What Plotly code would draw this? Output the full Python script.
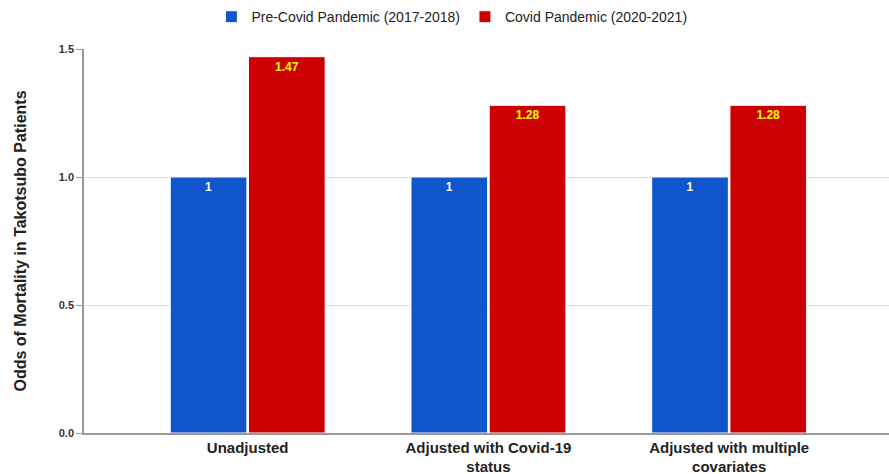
import plotly.graph_objects as go

categories = ["Unadjusted", "Adjusted with Covid-19<br>status", "Adjusted with multiple<br>covariates"]
pre_covid = [1, 1, 1]
covid = [1.47, 1.28, 1.28]
y_ticks = [0.0, 0.5, 1.0, 1.5]
y_tick_text = ["0.0", "0.5", "1.0", "1.5"]

x_pos = list(range(len(categories)))
FONT = "Liberation Sans, Arial, sans-serif"

fig = go.Figure()
fig.add_trace(go.Bar(
    x=x_pos, y=pre_covid, name="Pre-Covid Pandemic (2017-2018)",
    marker=dict(color="#1155cc", line=dict(color="white", width=1)),
    text=[str(v) for v in pre_covid], textposition="inside", insidetextanchor="end",
    textfont=dict(color="white", size=12, family=FONT, weight="bold"),
    textangle=0,
))
fig.add_trace(go.Bar(
    x=x_pos, y=covid, name="Covid Pandemic (2020-2021)",
    marker=dict(color="#cc0000", line=dict(color="white", width=1)),
    text=[str(v) for v in covid], textposition="inside", insidetextanchor="end",
    textfont=dict(color="#ffff00", size=12, family=FONT, weight="bold"),
    textangle=0,
))

fig.update_layout(
    width=889, height=474,
    margin=dict(l=84, r=0, t=49, b=41),
    paper_bgcolor="white", plot_bgcolor="white",
    barmode="group", bargap=0.35, bargroupgap=0.02,
    font=dict(family=FONT, color="#222222"),
    legend=dict(orientation="h", x=0.457, xanchor="center", y=1.083, yanchor="middle",
                font=dict(size=14, color="#222222"), itemwidth=30,
                bgcolor="rgba(0,0,0,0)"),
    xaxis=dict(
        tickmode="array", tickvals=x_pos, ticktext=categories,
        range=[-0.68, 2.664], showgrid=False, automargin=False,
        showline=True, linecolor="#999999", linewidth=1.5,
        ticks="", ticklabelstandoff=0,
        tickfont=dict(size=15, family=FONT, weight="bold", color="#222222"),
    ),
    yaxis=dict(
        range=[0, 1.5], tickmode="array", tickvals=y_ticks, ticktext=y_tick_text,
        showgrid=True, gridcolor="#dddddd", gridwidth=1, automargin=False,
        showline=True, linecolor="#999999", linewidth=1.5,
        ticks="outside", ticklen=6, tickcolor="#999999",
        tickfont=dict(size=11, family=FONT, weight="bold", color="#333333"),
        zeroline=False,
        title=dict(text="Odds of Mortality in Takotsubo Patients",
                   font=dict(size=16, family=FONT, weight="bold", color="#222222"),
                   standoff=28),
    ),
)

fig.write_html("out.html")
